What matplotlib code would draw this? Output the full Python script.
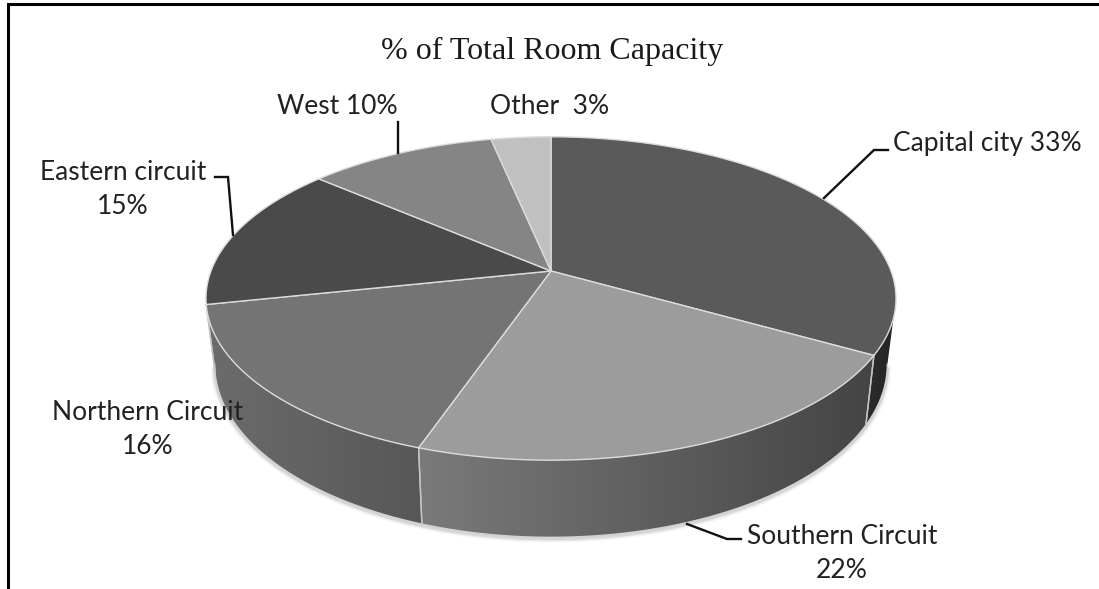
import numpy as np
import matplotlib
matplotlib.use("Agg")
import matplotlib.pyplot as plt
from matplotlib.patches import Polygon

TITLE = "% of Total Room Capacity"
categories = ["Capital city", "Southern Circuit", "Northern Circuit", "Eastern circuit", "West", "Other"]
values = [33.2, 22.1, 16.4, 14.6, 10.4, 3.3]
labels = ["Capital city 33%", "Southern Circuit\n22%", "Northern Circuit\n16%",
          "Eastern circuit\n15%", "West 10%", "Other  3%"]
top_colors = ["#5a5a5a", "#9c9c9c", "#747474", "#4a4a4a", "#858585", "#c0c0c0"]
side_grad = [("#2c2c2c", "#242424"), ("#7a7a7a", "#444444"), ("#6c6c6c", "#575757"),
             ("#5c5c5c", "#5c5c5c"), ("#555555", "#555555"), ("#555555", "#555555")]
label_pos = [(987, 144), (842, 554), (148, 429), (123, 189), (337, 106), (550, 106)]
leaders = [[(824, 198), (874, 150), (888, 150)],
           [(687, 524), (727, 539), (741, 539)],
           None,
           [(215, 177), (228, 177), (233, 235)],
           [(398, 122), (398, 153)],
           None]

CX, CY, RX, RY, K = 551.0, 271.0, 340.0, 157.0, 0.17
SHRINK_X, SHRINK_Y, DROP = 0.975, 1.07, 64.0


def project(theta, r=1.0, lower=False):
    u, v = r * np.sin(theta), -r * np.cos(theta)
    w = 1 - K * v
    x, y = RX * u / w, RY * v / w
    if lower:
        return CX + SHRINK_X * x, CY + DROP + SHRINK_Y * y
    return CX + x, CY + y


fig = plt.figure(figsize=(10.99, 5.89), dpi=100, facecolor="white")
ax = fig.add_axes([0, 0, 1, 1])
ax.axis("off")

fractions = np.cumsum([0] + values) / sum(values)
angles = 2 * np.pi * fractions
vis_right = np.arccos(-K)
vis_left = 2 * np.pi - vis_right

# soft shadow along the lower rim
tt = np.linspace(vis_right + 0.02, vis_left - 0.02, 400)
sx, sy = project(tt, lower=True)
for lw, a in [(6, 0.03), (4, 0.05), (2.5, 0.08)]:
    ax.plot(sx, sy + 1.2, color="black", alpha=a, lw=lw, zorder=1, solid_capstyle="round")

# side walls
for i in range(len(values)):
    a0, a1 = max(angles[i], vis_right), min(angles[i + 1], vis_left)
    if a1 <= a0:
        continue
    t = np.linspace(a0, a1, 150)
    xt, yt = project(t)
    xb, yb = project(t, lower=True)
    pts = np.column_stack([np.r_[xt, xb[::-1]], np.r_[yt, yb[::-1]]])
    poly = Polygon(pts, closed=True, fc="none", ec="none", zorder=2)
    ax.add_patch(poly)
    c_left, c_right = side_grad[i]
    left, right = pts[:, 0].min(), pts[:, 0].max()
    c0 = np.array(matplotlib.colors.to_rgb(c_left))
    c1 = np.array(matplotlib.colors.to_rgb(c_right))
    grad = c0 + (c1 - c0) * np.linspace(0, 1, 256)[:, None]
    im = ax.imshow(grad[None, :, :], extent=[left, right, pts[:, 1].max(), pts[:, 1].min()],
                   aspect="auto", zorder=2, interpolation="bilinear")
    im.set_clip_path(poly)
    ax.plot(xb, yb, color="#d2d2d2", lw=1.1, zorder=3)
    for a in (a0, a1):
        if vis_right < a < vis_left:
            xa0, ya0 = project(a)
            xa1, ya1 = project(a, lower=True)
            ax.plot([xa0, xa1], [ya0, ya1], color="#c4c4c4", lw=1.0, zorder=3)

# top face
for i, color in enumerate(top_colors):
    t = np.linspace(angles[i], angles[i + 1], 200)
    x, y = project(t)
    pts = np.column_stack([np.r_[CX, x], np.r_[CY, y]])
    ax.add_patch(Polygon(pts, closed=True, fc=color, ec="#dcdcdc", lw=1.0, zorder=4, joinstyle="round"))

# leader lines
for pts in leaders:
    if pts:
        xs, ys = zip(*pts)
        ax.plot(xs, ys, color="#111111", lw=1.7, zorder=5, solid_joinstyle="miter")

# labels
for text, (x, y) in zip(labels, label_pos):
    ax.text(x, y, text, family="Lato", fontsize=19, color="#222222", ha="center",
            va="center", linespacing=1.45, zorder=6)
ax.text(552, 51, TITLE, family="Liberation Serif", fontsize=23, color="#1a1a1a",
        ha="center", va="center", zorder=6)

# outer frame (left and top edges only)
ax.plot([8, 8, 1099], [589, 4, 4], color="black", lw=2.2, zorder=7,
        solid_capstyle="butt", solid_joinstyle="miter")

ax.set_xlim(0, 1099)
ax.set_ylim(589, 0)
fig.savefig("out.png", dpi=100)
